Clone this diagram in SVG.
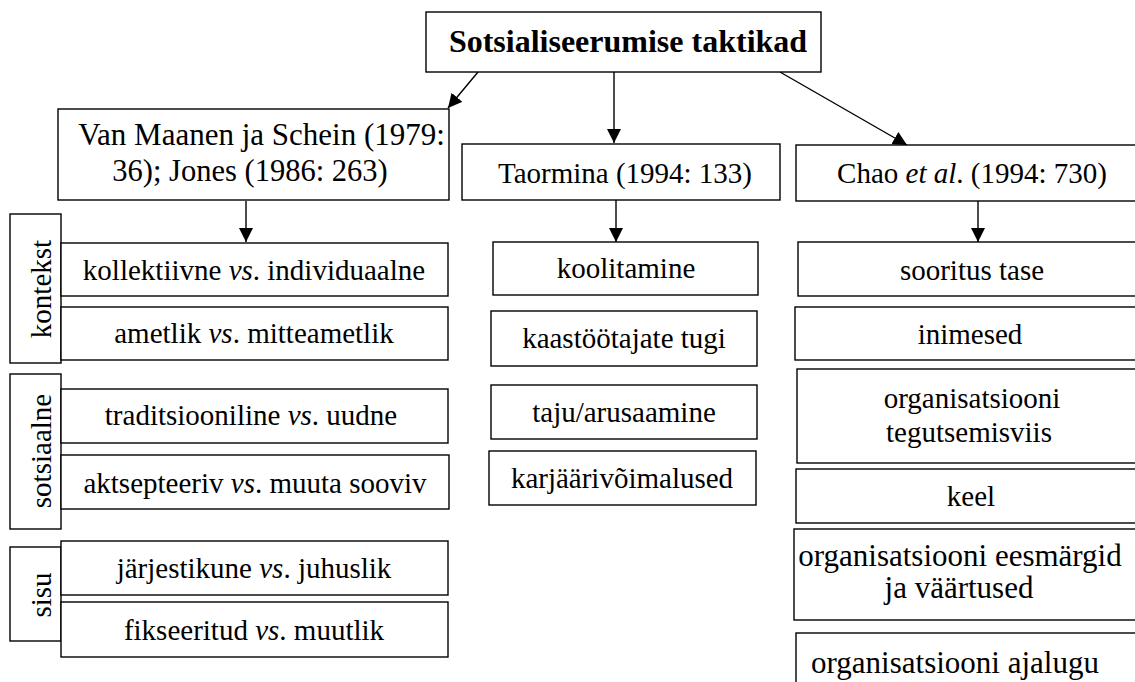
<svg xmlns="http://www.w3.org/2000/svg" width="1135" height="682" viewBox="0 0 1135 682">
<defs>
<style>
rect.n{fill:#fff;stroke:#000;stroke-width:1.4}
.c line{stroke:#000;stroke-width:1.4}
</style>
<marker id="ah" viewBox="0 0 10 10" refX="10" refY="5" markerWidth="14" markerHeight="14" markerUnits="userSpaceOnUse" orient="auto">
<path d="M0,0 L10,5 L0,10 z" fill="#000"/>
</marker>
</defs>
<rect width="1135" height="682" fill="#fff"/>
<g id="connectors" class="c">
<line x1="478" y1="72" x2="448" y2="108" marker-end="url(#ah)"/>
<line x1="614" y1="72" x2="614" y2="143" marker-end="url(#ah)"/>
<line x1="780" y1="72" x2="907" y2="145" marker-end="url(#ah)"/>
<line x1="246" y1="201" x2="246" y2="242" marker-end="url(#ah)"/>
<line x1="616" y1="200" x2="616" y2="242" marker-end="url(#ah)"/>
<line x1="978" y1="201" x2="978" y2="242" marker-end="url(#ah)"/>
</g>
<g id="root"><rect class="n" x="426" y="12" width="395" height="60"/><text font-family="Liberation Serif, serif" text-anchor="middle" font-weight="bold" x="628" y="52" font-size="32">Sotsialiseerumise taktikad</text></g>
<g id="vanmaanen"><rect class="n" x="58" y="109" width="391" height="91"/><text font-family="Liberation Serif, serif" text-anchor="middle" x="261.5" y="145" font-size="31">Van Maanen ja Schein (1979:</text><text font-family="Liberation Serif, serif" text-anchor="middle" x="250" y="181" font-size="30.5">36); Jones (1986: 263)</text></g>
<g id="taormina"><rect class="n" x="462" y="144" width="318" height="56"/><text font-family="Liberation Serif, serif" text-anchor="middle" font-size="29" x="625" y="183">Taormina (1994: 133)</text></g>
<g id="chao"><rect class="n" x="796" y="145" width="350" height="56"/><text font-family="Liberation Serif, serif" text-anchor="middle" font-size="29" x="972" y="183">Chao <tspan font-style="italic">et al</tspan>. (1994: 730)</text></g>

<g id="kontekst"><rect class="n" x="10" y="214" width="51" height="149"/><text font-family="Liberation Serif, serif" text-anchor="middle" font-size="29" transform="translate(51,289) rotate(-90)">kontekst</text></g>
<g id="kollektiivne"><rect class="n" x="61" y="243" width="387" height="53"/><text font-family="Liberation Serif, serif" text-anchor="middle" font-size="29" x="254" y="280">kollektiivne <tspan font-style="italic">vs</tspan>. individuaalne</text></g>
<g id="ametlik"><rect class="n" x="61" y="307" width="387" height="53"/><text font-family="Liberation Serif, serif" text-anchor="middle" font-size="29" x="254" y="343">ametlik <tspan font-style="italic">vs</tspan>. mitteametlik</text></g>
<g id="sotsiaalne"><rect class="n" x="10" y="374" width="51" height="155"/><text font-family="Liberation Serif, serif" text-anchor="middle" font-size="29" transform="translate(51,451) rotate(-90)">sotsiaalne</text></g>
<g id="traditsiooniline"><rect class="n" x="61" y="389" width="387" height="54"/><text font-family="Liberation Serif, serif" text-anchor="middle" font-size="29" x="251" y="425">traditsiooniline <tspan font-style="italic">vs</tspan>. uudne</text></g>
<g id="aktsepteeriv"><rect class="n" x="61" y="455" width="388" height="54"/><text font-family="Liberation Serif, serif" text-anchor="middle" font-size="29" x="255" y="493">aktsepteeriv <tspan font-style="italic">vs</tspan>. muuta sooviv</text></g>
<g id="sisu"><rect class="n" x="10" y="547" width="51" height="94"/><text font-family="Liberation Serif, serif" text-anchor="middle" font-size="29" transform="translate(51,595) rotate(-90)">sisu</text></g>
<g id="jarjestikune"><rect class="n" x="61" y="541" width="387" height="54"/><text font-family="Liberation Serif, serif" text-anchor="middle" font-size="29" x="254" y="578">järjestikune <tspan font-style="italic">vs</tspan>. juhuslik</text></g>
<g id="fikseeritud"><rect class="n" x="61" y="602" width="387" height="55"/><text font-family="Liberation Serif, serif" text-anchor="middle" font-size="29" x="254" y="640">fikseeritud <tspan font-style="italic">vs</tspan>. muutlik</text></g>

<g id="koolitamine"><rect class="n" x="493" y="242" width="265" height="53"/><text font-family="Liberation Serif, serif" text-anchor="middle" font-size="29" x="626" y="278">koolitamine</text></g>
<g id="kaastootajate"><rect class="n" x="491" y="311" width="266" height="55"/><text font-family="Liberation Serif, serif" text-anchor="middle" font-size="29" x="624" y="348">kaastöötajate tugi</text></g>
<g id="taju"><rect class="n" x="491" y="385" width="266" height="54"/><text font-family="Liberation Serif, serif" text-anchor="middle" font-size="29" x="624" y="422">taju/arusaamine</text></g>
<g id="karjaari"><rect class="n" x="489" y="451" width="267" height="54"/><text font-family="Liberation Serif, serif" text-anchor="middle" font-size="29" x="622" y="488">karjäärivõimalused</text></g>

<g id="sooritus"><rect class="n" x="798" y="242" width="350" height="54"/><text font-family="Liberation Serif, serif" text-anchor="middle" font-size="29" x="972" y="280">sooritus tase</text></g>
<g id="inimesed"><rect class="n" x="795" y="307" width="350" height="53"/><text font-family="Liberation Serif, serif" text-anchor="middle" font-size="29" x="970" y="344">inimesed</text></g>
<g id="tegutsemisviis"><rect class="n" x="797" y="369" width="350" height="94"/><text font-family="Liberation Serif, serif" text-anchor="middle" font-size="29" x="972" y="408">organisatsiooni</text><text font-family="Liberation Serif, serif" text-anchor="middle" font-size="29" x="969" y="442">tegutsemisviis</text></g>
<g id="keel"><rect class="n" x="796" y="469" width="350" height="54"/><text font-family="Liberation Serif, serif" text-anchor="middle" font-size="29" x="971" y="506">keel</text></g>
<g id="eesmargid"><rect class="n" x="794" y="529" width="350" height="91"/><text font-family="Liberation Serif, serif" text-anchor="middle" x="960" y="566" font-size="31">organisatsiooni eesmärgid</text><text font-family="Liberation Serif, serif" text-anchor="middle" x="959" y="598" font-size="31">ja väärtused</text></g>
<g id="ajalugu"><rect class="n" x="796" y="633" width="350" height="60"/><text font-family="Liberation Serif, serif" text-anchor="middle" x="955" y="673" font-size="31">organisatsiooni ajalugu</text></g>
</svg>
